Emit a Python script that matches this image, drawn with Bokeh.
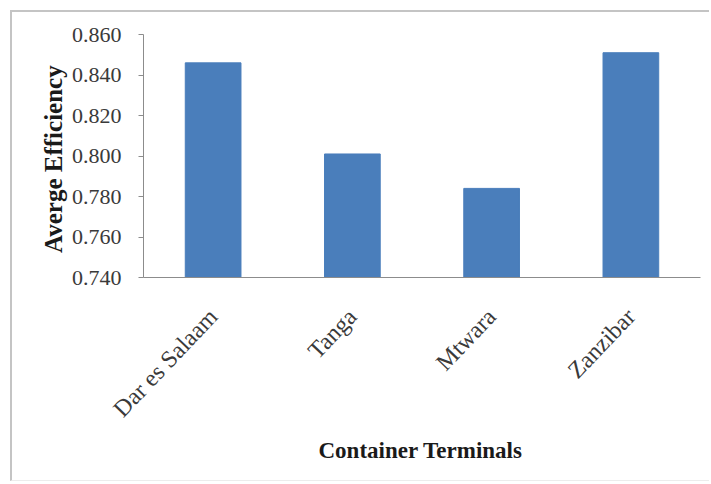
from bokeh.plotting import figure
from bokeh.models import Range1d, FactorRange, Title, NumeralTickFormatter, FixedTicker
from bokeh.embed import file_html
from bokeh.resources import INLINE

# Average efficiency per container terminal
terminals = ["Dar es Salaam", "Tanga", "Mtwara", "Zanzibar"]
efficiency = [0.846, 0.801, 0.784, 0.851]
y_ticks = [0.74, 0.76, 0.78, 0.80, 0.82, 0.84, 0.86]

SERIF = "Liberation Serif"
BAR_BLUE = "#4a7ebb"

p = figure(
    x_range=FactorRange(*terminals, range_padding=0),
    y_range=Range1d(0.74, 0.86),
    width=699, height=471,
    output_backend="svg", toolbar_location=None,
    min_border_left=131, min_border_right=11,
    min_border_top=22, min_border_bottom=206,
    margin=(10, 0, 0, 10),
    styles={"border-top": "2px solid #c4c4c4",
            "border-left": "2px solid #c4c4c4",
            "border-bottom": "1px solid #ececec"},
)

p.vbar(x=terminals, top=efficiency, bottom=0.74, width=0.4,
       fill_color=BAR_BLUE, line_color=BAR_BLUE)

p.outline_line_color = None
p.xgrid.grid_line_color = None
p.ygrid.grid_line_color = None
p.background_fill_color = "white"
p.border_fill_color = "white"

# y axis
yax = p.yaxis[0]
yax.ticker = FixedTicker(ticks=y_ticks)
yax.formatter = NumeralTickFormatter(format="0.000")
yax.axis_line_color = "#8c8c8c"
yax.major_tick_line_color = "#8c8c8c"
yax.major_tick_out = 5
yax.major_tick_in = 0
yax.minor_tick_line_color = None
yax.major_label_text_font = SERIF
yax.major_label_text_font_size = "22px"
yax.major_label_text_color = "#3a3a3a"
yax.major_label_standoff = 17
yax.axis_label = "Averge  Efficiency"
yax.axis_label_text_font = SERIF
yax.axis_label_text_font_style = "bold"
yax.axis_label_text_font_size = "25px"
yax.axis_label_text_color = "#1a1a1a"
yax.axis_label_standoff = 2

# x axis
xax = p.xaxis[0]
xax.axis_line_color = "#8c8c8c"
xax.major_tick_line_color = None
xax.minor_tick_line_color = None
xax.major_label_orientation = 0.81
xax.major_label_text_font = SERIF
xax.major_label_text_font_size = "24px"
xax.major_label_text_color = "#3a3a3a"
xax.major_label_standoff = 29

# x-axis caption, set slightly left of the frame centre
p.add_layout(Title(text="Container  Terminals", align="left", offset=175,
                   standoff=5, text_font=SERIF, text_font_style="bold",
                   text_font_size="23px", text_color="#1a1a1a"), "below")

open("out.html", "w").write(file_html(p, INLINE))
